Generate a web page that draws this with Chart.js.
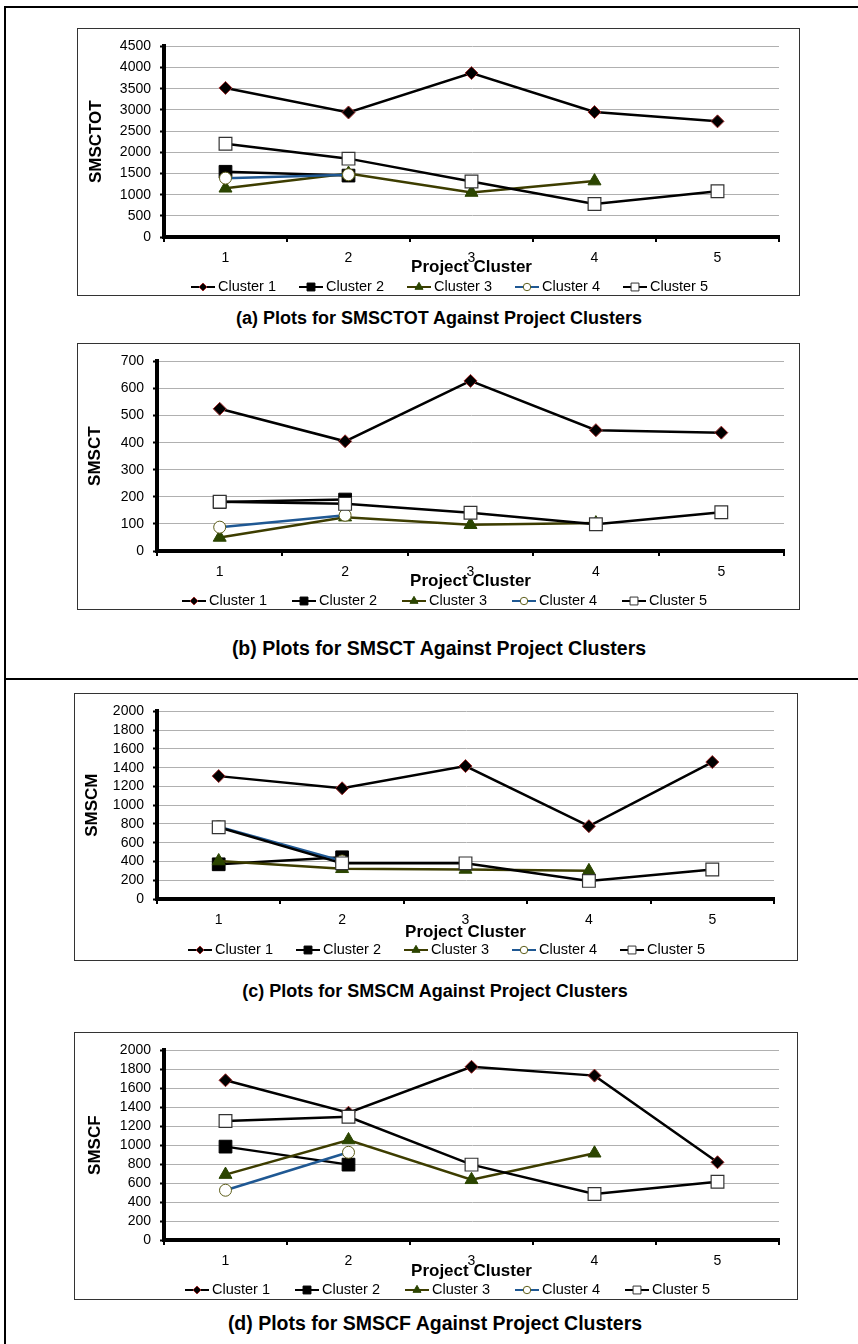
<!DOCTYPE html>
<html>
<head>
<meta charset="utf-8">
<script src="https://cdn.jsdelivr.net/npm/chart.js@4.4.1/dist/chart.umd.min.js"></script>
<style>
  body { margin: 0; background: #fff; font-family: "Liberation Sans", Arial, sans-serif; }
  #page { position: relative; width: 858px; height: 1344px; overflow: hidden; background: #fff; }
  .rule { position: absolute; background: #000; }
  .box { position: absolute; box-sizing: border-box; border: 1px solid #333; background: #fff; }
  .box canvas { display: block; }
  .cap { position: absolute; font-weight: bold; white-space: nowrap; color: #000; transform: translate(-50%, -50%); }
</style>
</head>
<body>
<div id="page">
  <div class="rule" style="left:4px;top:6px;width:854px;height:2px"></div>
  <div class="rule" style="left:4px;top:6px;width:2px;height:1338px"></div>
  <div class="rule" style="left:4px;top:678px;width:854px;height:2px"></div>
</div>

<script>
// ===============================
// DATA
// ===============================
const clusters = ["1", "2", "3", "4", "5"];
const seriesNames = ["Cluster 1", "Cluster 2", "Cluster 3", "Cluster 4", "Cluster 5"];

// one row per series (Cluster 1..5), one value per project cluster
const smsctot = [
  [3520, 2940, 3870, 2950, 2730],
  [1540, 1450, null, null, null],
  [1150, 1500, 1050, 1320, null],
  [1390, 1470, null, null, null],
  [2200, 1850, 1310, 780, 1080]
];
const smsct = [
  [525, 405, 628, 446, 437],
  [181, 190, null, null, null],
  [50, 125, 97, 103, null],
  [88, 132, null, null, null],
  [182, 174, 141, 99, 143]
];
const smscm = [
  [1310, 1180, 1417, 776, 1460],
  [370, 445, null, null, null],
  [405, 322, 315, 300, null],
  [770, 405, null, null, null],
  [765, 380, 380, 193, 315]
];
const smscf = [
  [1685, 1343, 1827, 1734, 820],
  [985, 795, null, null, null],
  [690, 1055, 635, 915, null],
  [525, 925, null, null, null],
  [1255, 1300, 795, 485, 615]
];

const yTitles = ["SMSCTOT", "SMSCT", "SMSCM", "SMSCF"];
const yMax = [4500, 700, 2000, 2000];
const yStep = [500, 100, 200, 200];
const captions = [
  "(a) Plots for SMSCTOT Against Project Clusters",
  "(b) Plots for SMSCT Against Project Clusters",
  "(c) Plots for SMSCM Against Project Clusters",
  "(d) Plots for SMSCF Against Project Clusters"
];

// ===============================
// STYLE
// ===============================
const seriesStyle = [
  { line: "#000000", style: "rectRot",  r: 6.5, fill: "#000000", edge: "#9a2a2a", bw: 1 },
  { line: "#000000", style: "rect",     r: 9,   fill: "#000000", edge: "#000000", bw: 1 },
  { line: "#3d3d00", style: "triangle", r: 7.5, fill: "#2b4500", edge: "#2b4500", bw: 1 },
  { line: "#1f5893", style: "circle",   r: 6,   fill: "#ffffff", edge: "#5c5c18", bw: 1 },
  { line: "#000000", style: "rect",     r: 9,   fill: "#ffffff", edge: "#333333", bw: 1.2 }
];

// panel layout in page pixels
const panels = [
  { rows: smsctot, box: [77, 28, 800, 296],   plot: [164, 43, 779, 237],   yTitleX: 96, xTitleY: 268,  legend: [191, 287, 108],  cap: [439, 318, 18] },
  { rows: smsct,   box: [77, 343, 800, 610],  plot: [157, 358, 784, 551],  yTitleX: 95, xTitleY: 582,  legend: [182, 601, 110],  cap: [439, 648, 19.5] },
  { rows: smscm,   box: [74, 693, 798, 961],  plot: [157, 706, 774, 899],  yTitleX: 92, xTitleY: 933,  legend: [188, 950, 108],  cap: [435, 991, 18] },
  { rows: smscf,   box: [74, 1032, 798, 1300], plot: [164, 1047, 779, 1240], yTitleX: 95, xTitleY: 1272, legend: [185, 1290, 110], cap: [435, 1323, 19.5] }
];

Chart.defaults.font.family = "'Liberation Sans', Arial, sans-serif";
Chart.defaults.color = "#000";

// legend drawn as line + marker + text, like the spreadsheet legend
const lineLegend = {
  id: "lineLegend",
  afterDraw(chart, args, opts) {
    const ctx = chart.ctx;
    ctx.save();
    ctx.font = "14.5px 'Liberation Sans', Arial, sans-serif";
    ctx.textBaseline = "middle";
    chart.data.datasets.forEach((ds, i) => {
      const x = opts.x + i * opts.step;
      const y = opts.y;
      ctx.strokeStyle = ds.borderColor;
      ctx.lineWidth = 2;
      ctx.beginPath();
      ctx.moveTo(x, y);
      ctx.lineTo(x + 24, y);
      ctx.stroke();
      ctx.fillStyle = ds.pointBackgroundColor;
      ctx.strokeStyle = ds.pointBorderColor;
      ctx.lineWidth = 1;
      Chart.helpers.drawPoint(ctx, {
        pointStyle: ds.pointStyle, radius: ds.pointRadius * 0.62, rotation: 0, borderWidth: 1
      }, x + 12, y);
      ctx.fillStyle = "#000";
      ctx.fillText(ds.label, x + 27, y);
    });
    ctx.restore();
  }
};

const page = document.getElementById("page");

panels.forEach((p, k) => {
  const [bx, by, bx2, by2] = p.box;
  const [pl, pt, pr, pb] = p.plot;
  const ox = bx + 1, oy = by + 1;           // canvas origin
  const cw = bx2 - bx - 2, ch = by2 - by - 2;

  const box = document.createElement("div");
  box.className = "box";
  box.style.left = bx + "px";
  box.style.top = by + "px";
  box.style.width = (bx2 - bx) + "px";
  box.style.height = (by2 - by) + "px";
  const canvas = document.createElement("canvas");
  canvas.width = cw;
  canvas.height = ch;
  box.appendChild(canvas);
  page.appendChild(box);

  const cap = document.createElement("div");
  cap.className = "cap";
  cap.style.left = p.cap[0] + "px";
  cap.style.top = p.cap[1] + "px";
  cap.style.fontSize = p.cap[2] + "px";
  cap.textContent = captions[k];
  page.appendChild(cap);

  const yWidth = pl - ox;
  const xHeight = Math.round(p.xTitleY + 10.2 - pb);

  const datasets = p.rows.map((vals, i) => {
    const s = seriesStyle[i];
    return {
      label: seriesNames[i],
      data: vals,
      borderColor: s.line,
      borderWidth: 2.5,
      pointStyle: s.style,
      pointRadius: s.r,
      pointBackgroundColor: s.fill,
      pointBorderColor: s.edge,
      pointBorderWidth: s.bw,
      spanGaps: false,
      tension: 0,
      order: 5 - i
    };
  });

  new Chart(canvas, {
    type: "line",
    data: { labels: clusters, datasets },
    plugins: [lineLegend],
    options: {
      responsive: false,
      animation: false,
      layout: {
        padding: { left: 0, right: (bx2 - 1) - pr, top: pt - oy, bottom: (by2 - 1) - pb - xHeight }
      },
      plugins: {
        legend: { display: false },
        tooltip: { enabled: false },
        lineLegend: { x: p.legend[0] - ox, y: p.legend[1] - oy, step: p.legend[2] }
      },
      scales: {
        x: {
          type: "category",
          offset: true,
          afterFit: (s) => { s.height = xHeight; },
          grid: { display: true, offset: true, drawOnChartArea: false, drawTicks: true, tickLength: 5, color: "#000", lineWidth: 2 },
          border: { display: true, color: "#000", width: 4 },
          ticks: { color: "#000", font: { size: 14 }, padding: 8, maxRotation: 0 },
          title: { display: true, text: "Project Cluster", color: "#000", font: { size: 17, weight: "bold" }, padding: { top: 0, bottom: 0 } }
        },
        y: {
          min: 0,
          max: yMax[k],
          afterFit: (s) => { s.width = yWidth; },
          grid: { color: "#b0b0b0", lineWidth: 1, tickColor: "#000", tickLength: 4, tickWidth: 2 },
          border: { display: true, color: "#000", width: 4 },
          ticks: {
            stepSize: yStep[k], autoSkip: false, color: "#000", font: { size: 14 }, padding: 9,
            callback: (v) => String(v)
          },
          title: { display: true, text: yTitles[k], color: "#000", font: { size: 17, weight: "bold" }, padding: { top: p.yTitleX - ox - 10.2, bottom: 0 } }
        }
      }
    }
  });
});
</script>
</body>
</html>
